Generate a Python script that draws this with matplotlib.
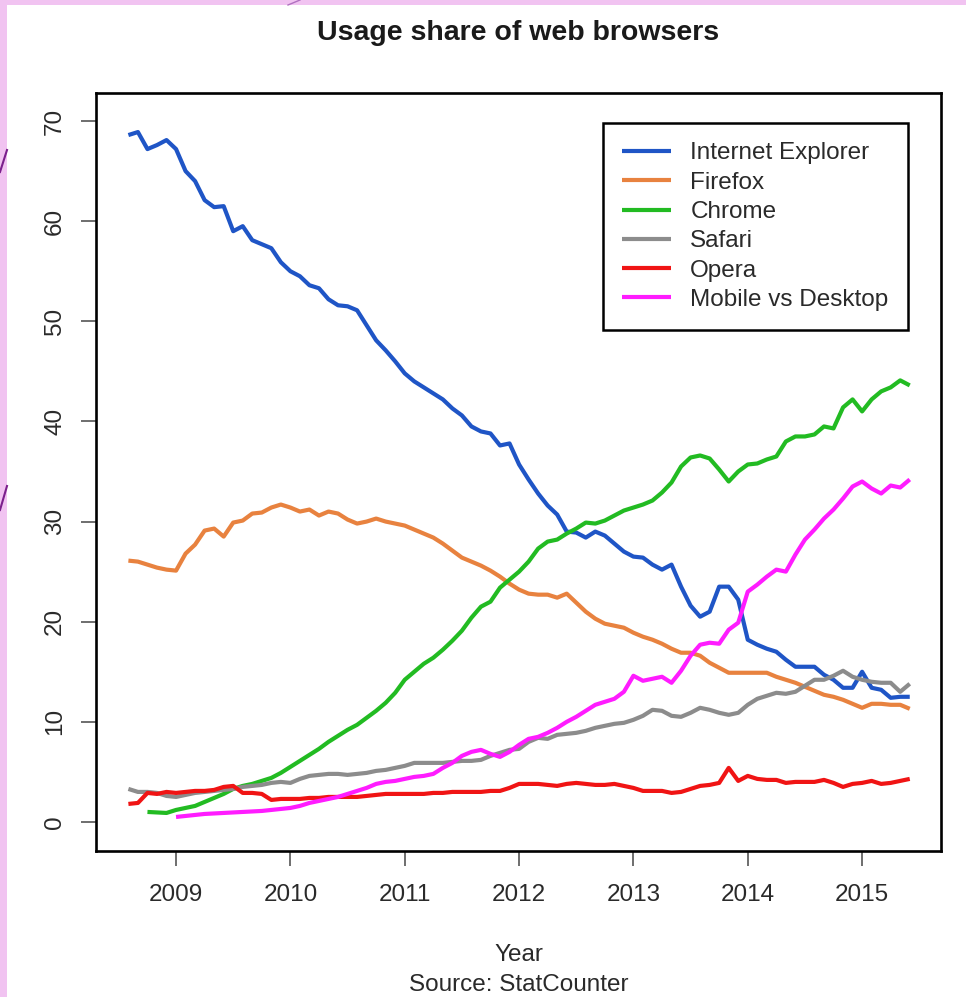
import numpy as np
import matplotlib
matplotlib.use("Agg")
import matplotlib.pyplot as plt
from matplotlib.patches import Rectangle
from matplotlib.lines import Line2D

plt.rcParams['font.family'] = ['Liberation Sans', 'DejaVu Sans']

# Monthly data, Aug 2008 .. Jun 2015 (83 months)
start_year, start_month, n_months = 2008, 8, 83
nan = np.nan

ie = [68.6, 68.9, 67.2, 67.6, 68.1,
      67.2, 65.0, 64.0, 62.1, 61.4, 61.5, 59.0, 59.5, 58.1, 57.7, 57.3, 55.9,
      55.0, 54.5, 53.6, 53.3, 52.2, 51.6, 51.5, 51.1, 49.6, 48.1, 47.1, 46.0,
      44.8, 44.0, 43.4, 42.8, 42.2, 41.3, 40.6, 39.5, 39.0, 38.8, 37.6, 37.8,
      35.7, 34.2, 32.8, 31.6, 30.7, 29.0, 28.9, 28.4, 29.0, 28.6, 27.8, 27.0,
      26.5, 26.4, 25.7, 25.2, 25.7, 23.5, 21.6, 20.5, 21.0, 23.5, 23.5, 22.2,
      18.2, 17.7, 17.3, 17.0, 16.2, 15.5, 15.5, 15.5, 14.7, 14.2, 13.4, 13.4,
      15.0, 13.4, 13.2, 12.4, 12.5, 12.5]

firefox = [26.1, 26.0, 25.7, 25.4, 25.2,
           25.1, 26.8, 27.7, 29.1, 29.3, 28.5, 29.9, 30.1, 30.8, 30.9, 31.4, 31.7,
           31.4, 31.0, 31.2, 30.6, 31.0, 30.8, 30.2, 29.8, 30.0, 30.3, 30.0, 29.8,
           29.6, 29.2, 28.8, 28.4, 27.8, 27.1, 26.4, 26.0, 25.6, 25.1, 24.5, 23.8,
           23.2, 22.8, 22.7, 22.7, 22.4, 22.8, 21.9, 21.0, 20.3, 19.8, 19.6, 19.4,
           18.9, 18.5, 18.2, 17.8, 17.3, 16.9, 16.9, 16.6, 15.9, 15.4, 14.9, 14.9,
           14.9, 14.9, 14.9, 14.5, 14.2, 13.9, 13.5, 13.1, 12.7, 12.5, 12.2, 11.8,
           11.4, 11.8, 11.8, 11.7, 11.7, 11.3]

chrome = [nan, nan, 1.0, 0.95, 0.9,
          1.2, 1.4, 1.6, 2.0, 2.4, 2.8, 3.3, 3.6, 3.8, 4.1, 4.4, 4.9,
          5.5, 6.1, 6.7, 7.3, 8.0, 8.6, 9.2, 9.7, 10.4, 11.1, 11.9, 12.9,
          14.2, 15.0, 15.8, 16.4, 17.2, 18.1, 19.1, 20.4, 21.5, 22.0, 23.4, 24.2,
          25.0, 26.0, 27.3, 28.0, 28.2, 28.8, 29.3, 29.9, 29.8, 30.1, 30.6, 31.1,
          31.4, 31.7, 32.1, 32.9, 33.9, 35.5, 36.4, 36.6, 36.3, 35.2, 34.0, 35.0,
          35.7, 35.8, 36.2, 36.5, 38.0, 38.5, 38.5, 38.7, 39.5, 39.3, 41.4, 42.2,
          41.0, 42.2, 43.0, 43.4, 44.1, 43.6]

safari = [3.3, 3.0, 3.0, 2.9, 2.6,
          2.5, 2.7, 2.9, 3.0, 3.1, 3.2, 3.3, 3.5, 3.6, 3.7, 3.9, 4.0,
          3.9, 4.3, 4.6, 4.7, 4.8, 4.8, 4.7, 4.8, 4.9, 5.1, 5.2, 5.4,
          5.6, 5.9, 5.9, 5.9, 5.9, 6.0, 6.1, 6.1, 6.2, 6.6, 6.9, 7.2,
          7.3, 8.0, 8.4, 8.3, 8.7, 8.8, 8.9, 9.1, 9.4, 9.6, 9.8, 9.9,
          10.2, 10.6, 11.2, 11.1, 10.6, 10.5, 10.9, 11.4, 11.2, 10.9, 10.7, 10.9,
          11.7, 12.3, 12.6, 12.9, 12.8, 13.0, 13.6, 14.2, 14.2, 14.6, 15.1, 14.5,
          14.2, 14.0, 13.9, 13.9, 13.0, 13.8]

opera = [1.8, 1.9, 2.9, 2.8, 3.0,
         2.9, 3.0, 3.1, 3.1, 3.2, 3.5, 3.6, 2.9, 2.9, 2.8, 2.2, 2.3,
         2.3, 2.3, 2.4, 2.4, 2.5, 2.5, 2.5, 2.5, 2.6, 2.7, 2.8, 2.8,
         2.8, 2.8, 2.8, 2.9, 2.9, 3.0, 3.0, 3.0, 3.0, 3.1, 3.1, 3.4,
         3.8, 3.8, 3.8, 3.7, 3.6, 3.8, 3.9, 3.8, 3.7, 3.7, 3.8, 3.6,
         3.4, 3.1, 3.1, 3.1, 2.9, 3.0, 3.3, 3.6, 3.7, 3.9, 5.4, 4.1,
         4.6, 4.3, 4.2, 4.2, 3.9, 4.0, 4.0, 4.0, 4.2, 3.9, 3.5, 3.8,
         3.9, 4.1, 3.8, 3.9, 4.1, 4.3]

mobile = [nan, nan, nan, nan, nan,
          0.5, 0.6, 0.7, 0.8, 0.85, 0.9, 0.95, 1.0, 1.05, 1.1, 1.2, 1.3,
          1.4, 1.6, 1.9, 2.1, 2.3, 2.5, 2.8, 3.1, 3.4, 3.8, 4.0, 4.1,
          4.3, 4.5, 4.6, 4.8, 5.4, 5.9, 6.6, 7.0, 7.2, 6.8, 6.5, 7.0,
          7.7, 8.3, 8.5, 8.9, 9.4, 10.0, 10.5, 11.1, 11.7, 12.0, 12.3, 13.0,
          14.6, 14.1, 14.3, 14.5, 13.9, 15.1, 16.6, 17.7, 17.9, 17.8, 19.2, 19.9,
          23.0, 23.7, 24.5, 25.2, 25.0, 26.7, 28.2, 29.2, 30.3, 31.2, 32.3, 33.5,
          34.0, 33.3, 32.8, 33.6, 33.4, 34.2]

series_names = ["Internet Explorer", "Firefox", "Chrome", "Safari", "Opera",
                "Mobile vs Desktop"]
series_colors = ["#1f55c6", "#e8823f", "#22bb22", "#8c8c8c", "#f01414", "#ff1cff"]
year_ticks = [2009, 2010, 2011, 2012, 2013, 2014, 2015]
y_ticks = [0, 10, 20, 30, 40, 50, 60, 70]

months = np.arange(n_months)
x = start_year + (start_month - 1 + months) / 12.0

W, H = 966, 997
fig = plt.figure(figsize=(W / 100, H / 100), dpi=100)
fig.patch.set_facecolor('#f1c3f1')
fig.add_artist(Rectangle((7 / W, 0), 1 - 7 / W, 1 - 5 / H, transform=fig.transFigure,
                         facecolor='white', edgecolor='none', zorder=-10))
# decorative purple strokes in the pink frame
fig.add_artist(Line2D([0, 7 / W], [1 - 172 / H, 1 - 150 / H], transform=fig.transFigure,
                      color='#7b1f8c', lw=1.5, zorder=-5))
fig.add_artist(Line2D([0, 7 / W], [1 - 510 / H, 1 - 486 / H], transform=fig.transFigure,
                      color='#7b1f8c', lw=1.5, zorder=-5))
fig.add_artist(Line2D([288 / W, 300 / W], [1 - 5 / H, 1.0], transform=fig.transFigure,
                      color='#b070c0', lw=1.0, zorder=-5))

left, right, top, bottom = 96, 941, 93, 851
ax = fig.add_axes([left / W, 1 - bottom / H, (right - left) / W, (bottom - top) / H])

data = [ie, firefox, chrome, safari, opera, mobile]
for vals, name, col in zip(data, series_names, series_colors):
    ax.plot(x, vals, color=col, lw=3.0, label=name, solid_joinstyle='round',
            solid_capstyle='butt')

ax.set_xlim(2008.30, 2015.69)
ax.set_ylim(-2.9, 72.8)
ax.set_xticks(year_ticks)
ax.set_xticklabels([str(y) for y in year_ticks])
ax.set_yticks(y_ticks)
ax.set_yticklabels([str(v) for v in y_ticks])

for sp in ax.spines.values():
    sp.set_color('black')
    sp.set_linewidth(1.9)

ax.tick_params(axis='both', direction='out', length=10.5, width=1.2, color='#555555',
               labelsize=17.5, labelcolor='#2a2a2a')
ax.tick_params(axis='x', pad=13)
ax.tick_params(axis='y', pad=11)
for lab in ax.get_yticklabels():
    lab.set_rotation(90)
    lab.set_va('center')

leg = ax.legend(loc='upper right', bbox_to_anchor=(0.961, 0.9604), frameon=True,
                fancybox=False, edgecolor='black', fontsize=17.5, handlelength=2.0,
                handletextpad=0.8, borderpad=0.8, labelspacing=0.3, borderaxespad=0)
leg.get_frame().set_linewidth(1.8)
leg.get_frame().set_alpha(1)
for t in leg.get_texts():
    t.set_color('#2a2a2a')

fig.text(518.5 / W, 1 - 33 / H, 'Usage share of web browsers', ha='center', va='center',
         fontsize=20.5, fontweight='bold', color='#1a1a1a')
fig.text(518.5 / W, 1 - 955 / H, 'Year', ha='center', va='center', fontsize=17.5,
         color='#2a2a2a')
fig.text(518.5 / W, 1 - 985 / H, 'Source: StatCounter', ha='center', va='center',
         fontsize=17.5, color='#2a2a2a')

fig.savefig('out.png', dpi=100, facecolor=fig.get_facecolor())
